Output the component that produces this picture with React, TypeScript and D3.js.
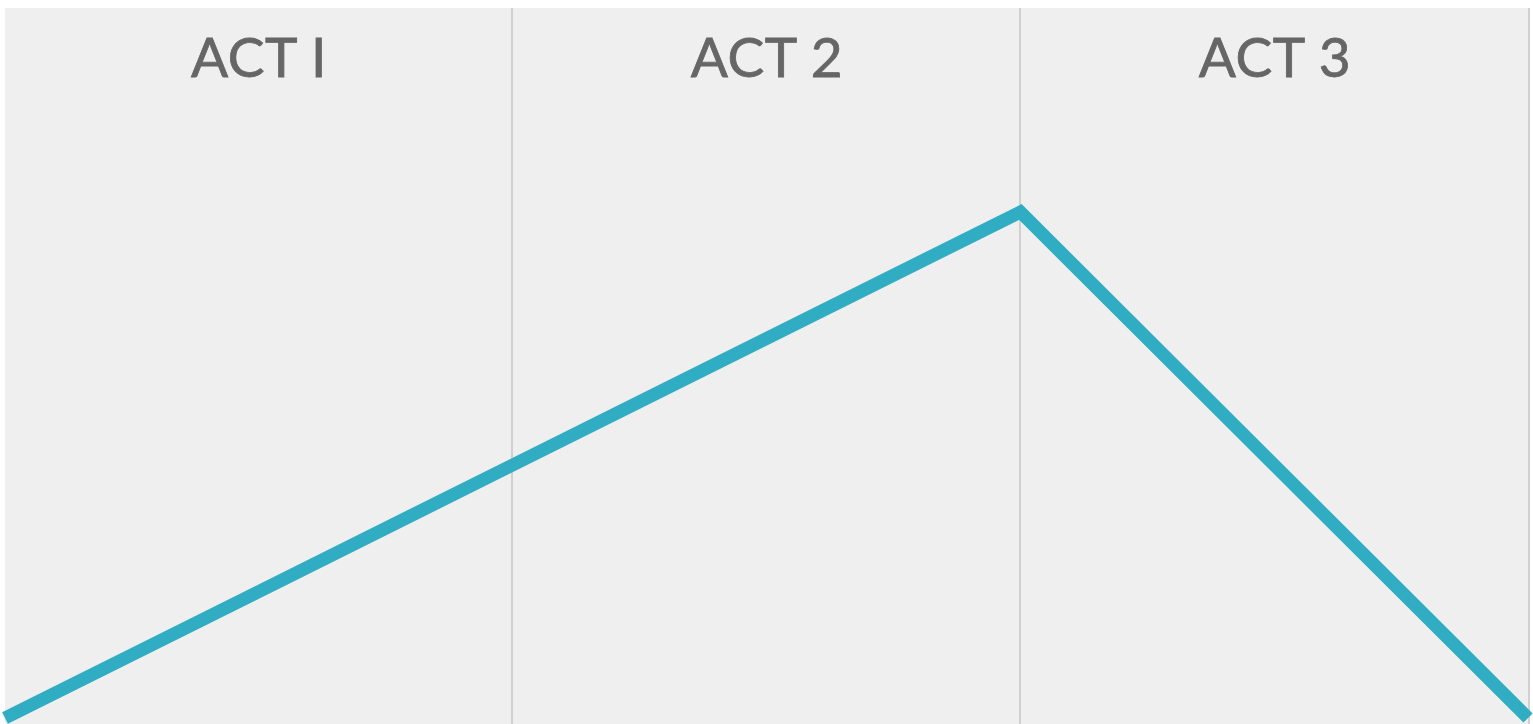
import React from 'react';
import * as d3 from 'd3';

// Story arc: tension at each act boundary
const points = [0, 1, 2, 3];
const tension = [0, 50, 100, 0];
const acts = ['ACT I', 'ACT 2', 'ACT 3'];

const W = 1533;
const H = 724;

const App: React.FC = () => {
  const left = 5;
  const right = 1529;
  const top = 8;

  const x = d3.scaleLinear().domain([0, 3]).range([left, right - 1]);
  const y = d3.scaleLinear().domain([0, 100]).range([718, 212]);

  const line = d3.line<number>()
    .x((_, i) => x(points[i]))
    .y(d => y(d));

  const band = d3.scaleBand<string>().domain(acts).range([left, right]);

  return (
    <svg width={W} height={H} style={{ position: 'absolute', left: 0, top: 0, display: 'block' }}>
      <rect x={left} y={top} width={right - left + 1} height={H - top} fill="#efefef" />
      {[512, 1020, 1529].map(p => (
        <line key={p} x1={p} x2={p} y1={top} y2={H} stroke="#c6c6c6" strokeWidth={1.5} />
      ))}
      {acts.map(a => (
        <text
          key={a}
          x={band(a)! + band.bandwidth() / 2}
          y={77}
          textAnchor="middle"
          fill="#666666"
          fontFamily="Lato, 'Open Sans', sans-serif"
          fontSize={55}
          stroke="#666666"
          strokeWidth={0.8}
          letterSpacing={0.5}
        >
          {a}
        </text>
      ))}
      <path d={line(tension) ?? ''} fill="none" stroke="#30adc2" strokeWidth={13} strokeLinejoin="miter" />
    </svg>
  );
};

export default App;
